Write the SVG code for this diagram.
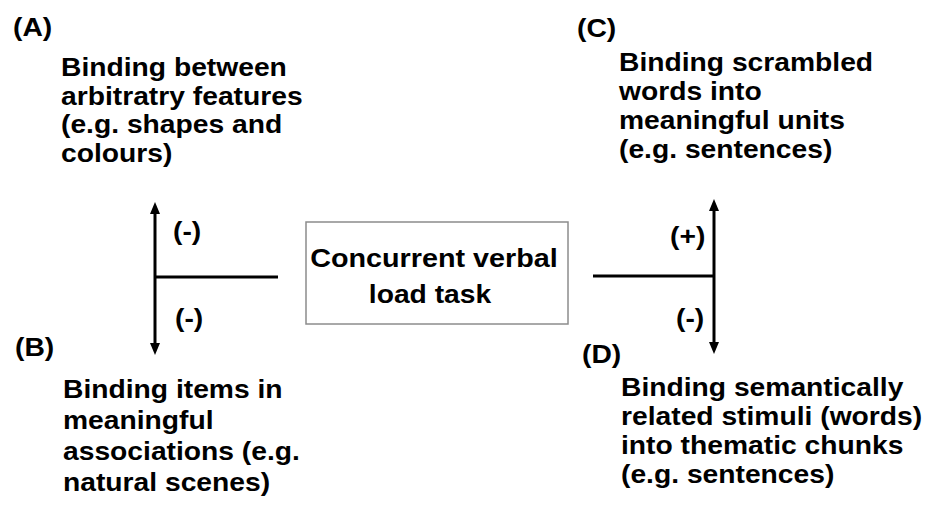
<svg xmlns="http://www.w3.org/2000/svg" width="933" height="506" viewBox="0 0 933 506">
  <style>
    text { font-family: "Liberation Sans", Arial, sans-serif; font-weight: bold; font-size: 25px; fill: #000; }
    .mid { text-anchor: middle; }
    .wire { stroke: #000; stroke-width: 3; fill: none; }
    .box { fill: #fff; stroke: #8c8c8c; stroke-width: 1.5; }
  </style>
  <defs>
    <marker id="head" viewBox="0 0 12 10" refX="4" refY="5" markerWidth="12" markerHeight="10" markerUnits="userSpaceOnUse" orient="auto-start-reverse">
      <path d="M0,0 L12,5 L0,10 z" fill="#000"/>
    </marker>
  </defs>
  <rect width="933" height="506" fill="#fff"/>

  <!-- central task box -->
  <g id="task">
    <rect class="box" x="306" y="222" width="262" height="102"/>
    <text class="mid" transform="translate(434,267) scale(1.15,1)">Concurrent verbal</text>
    <text class="mid" transform="translate(430,303) scale(1.13,1)">load task</text>
  </g>

  <!-- outcome nodes -->
  <g id="node-a">
    <text transform="translate(13,36) scale(1.13,1)">(A)</text>
    <text transform="translate(61,76) scale(1.13,1)">
      <tspan x="0" y="0">Binding between</tspan>
      <tspan x="0" y="29">arbitratry features</tspan>
      <tspan x="0" y="57">(e.g. shapes and</tspan>
      <tspan x="0" y="86">colours)</tspan>
    </text>
  </g>
  <g id="node-b">
    <text transform="translate(15,356) scale(1.13,1)">(B)</text>
    <text transform="translate(63,398) scale(1.13,1)">
      <tspan x="0" y="0">Binding items in</tspan>
      <tspan x="0" y="31">meaningful</tspan>
      <tspan x="0" y="62">associations (e.g.</tspan>
      <tspan x="0" y="93">natural scenes)</tspan>
    </text>
  </g>
  <g id="node-c">
    <text transform="translate(577,37) scale(1.13,1)">(C)</text>
    <text transform="translate(619,71) scale(1.13,1)">
      <tspan x="0" y="0">Binding scrambled</tspan>
      <tspan x="0" y="29">words into</tspan>
      <tspan x="0" y="58">meaningful units</tspan>
      <tspan x="0" y="87">(e.g. sentences)</tspan>
    </text>
  </g>
  <g id="node-d">
    <text transform="translate(582,363) scale(1.13,1)">(D)</text>
    <text transform="translate(621,396) scale(1.13,1)">
      <tspan x="0" y="0">Binding semantically</tspan>
      <tspan x="0" y="29">related stimuli (words)</tspan>
      <tspan x="0" y="58">into thematic chunks</tspan>
      <tspan x="0" y="87">(e.g. sentences)</tspan>
    </text>
  </g>

  <!-- connectors -->
  <g id="connectors">
    <line class="wire" x1="155" y1="277" x2="278" y2="277"/>
    <line class="wire" x1="155" y1="210" x2="155" y2="347" marker-start="url(#head)" marker-end="url(#head)"/>
    <line class="wire" x1="593" y1="276" x2="714" y2="276"/>
    <line class="wire" x1="714" y1="207" x2="714" y2="346" marker-start="url(#head)" marker-end="url(#head)"/>
  </g>

  <!-- effect signs -->
  <g id="signs">
    <text transform="translate(173,240) scale(1.13,1)">(-)</text>
    <text transform="translate(175,327) scale(1.13,1)">(-)</text>
    <text transform="translate(670,245) scale(1.13,1)">(+)</text>
    <text transform="translate(676,327) scale(1.13,1)">(-)</text>
  </g>
</svg>
